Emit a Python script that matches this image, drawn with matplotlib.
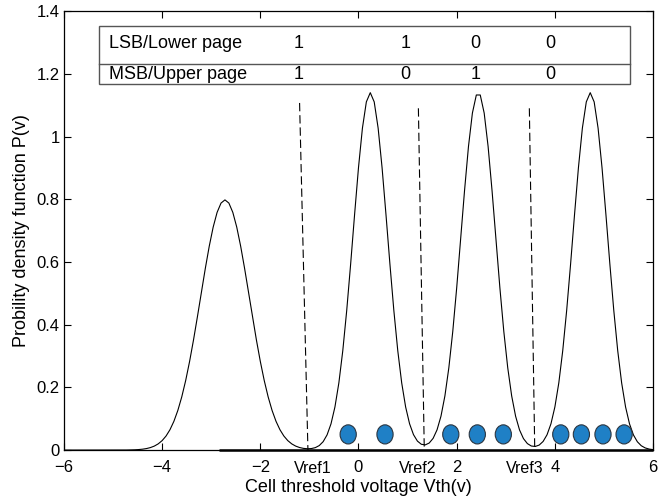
import matplotlib
matplotlib.use('Agg')
import matplotlib.pyplot as plt
import numpy as np
from matplotlib.patches import Ellipse, Rectangle
from matplotlib.ticker import FuncFormatter

plt.rcParams['font.family'] = ['Liberation Sans', 'DejaVu Sans']
plt.rcParams['axes.unicode_minus'] = True

# threshold voltage distributions of the four cell states (gaussian pdfs)
state_means = [-2.72, 0.24, 2.44, 4.72]
state_sigmas = [0.5, 0.35, 0.35, 0.35]

# read reference voltages: top and bottom end of each dashed marker
vref_names = ['Vref1', 'Vref2', 'Vref3']
vref_label_x = [-0.94, 1.21, 3.38]
vref_top = [(-1.20, 1.107), (1.22, 1.09), (3.48, 1.09)]
vref_bottom = [(-1.03, 0.0), (1.34, 0.0), (3.59, 0.0)]

# stored cells drawn as blue dots
cell_x = [-0.21, 0.54, 1.88, 2.42, 2.95, 4.12, 4.54, 4.98, 5.41]
cell_y = 0.05

# bit mapping table
row_names = ['LSB/Lower page', 'MSB/Upper page']
lsb_bits = ['1', '1', '0', '0']
msb_bits = ['1', '0', '1', '0']
bit_cols = [-1.21, 0.95, 2.38, 3.9]

v = np.linspace(-6, 6, 151)
pdf = np.zeros_like(v)
for m, s in zip(state_means, state_sigmas):
    pdf += np.exp(-(v - m) ** 2 / (2 * s ** 2)) / (s * np.sqrt(2 * np.pi))

fig = plt.figure(figsize=(6.59, 5.04), dpi=100)
ax = fig.add_axes([0.097, 0.107, 0.894, 0.871])

ax.plot(v, pdf, color='black', lw=0.8)
ax.plot([-2.85, 6], [0, 0], color='black', lw=1.8, clip_on=False,
        solid_capstyle='butt')

for (x0, y0), (x1, y1) in zip(vref_top, vref_bottom):
    ax.plot([x0, x1], [y0, y1], color='black', lw=0.8, dashes=(7.5, 3.5))

for name, x in zip(vref_names, vref_label_x):
    ax.text(x, -0.06, name, ha='center', va='center', fontsize=11.5,
            clip_on=False)

for x in cell_x:
    ax.add_patch(Ellipse((x, cell_y), 0.33, 0.061, facecolor='#1f80c6',
                         edgecolor='#2b3540', lw=0.8, zorder=3))

# table of page bits
tx0, tx1 = -5.29, 5.54
ty0, ymid, ty1 = 1.166, 1.231, 1.353
ax.add_patch(Rectangle((tx0, ty0), tx1 - tx0, ty1 - ty0, fill=False,
                       edgecolor='#555555', lw=1.0))
ax.plot([tx0, tx1], [ymid, ymid], color='#555555', lw=1.0)
ax.text(-5.09, 1.296, row_names[0], ha='left', va='center', fontsize=13)
ax.text(-5.09, 1.199, row_names[1], ha='left', va='center', fontsize=13)
for x, a, b in zip(bit_cols, lsb_bits, msb_bits):
    ax.text(x, 1.296, a, ha='center', va='center', fontsize=13)
    ax.text(x, 1.199, b, ha='center', va='center', fontsize=13)

ax.set_xlim(-6, 6)
ax.set_ylim(0, 1.4)
ax.set_xticks(np.arange(-6, 7, 2))
ax.set_yticks(np.arange(0, 1.41, 0.2))
ax.yaxis.set_major_formatter(FuncFormatter(lambda y, p: '%g' % round(y, 2)))
ax.xaxis.set_major_formatter(FuncFormatter(
    lambda x, p: ('%g' % x).replace('-', '\u2212')))
ax.tick_params(direction='in', top=True, right=True, length=5, width=0.8,
               labelsize=12)
ax.tick_params(axis='x', pad=7)
ax.tick_params(axis='y', pad=3)
for sp in ax.spines.values():
    sp.set_linewidth(0.9)

ax.set_xlabel('Cell threshold voltage Vth(v)', fontsize=13, labelpad=3)
ax.set_ylabel('Probility density function P(v)', fontsize=13, labelpad=5)

plt.savefig('out.png', dpi=100)
